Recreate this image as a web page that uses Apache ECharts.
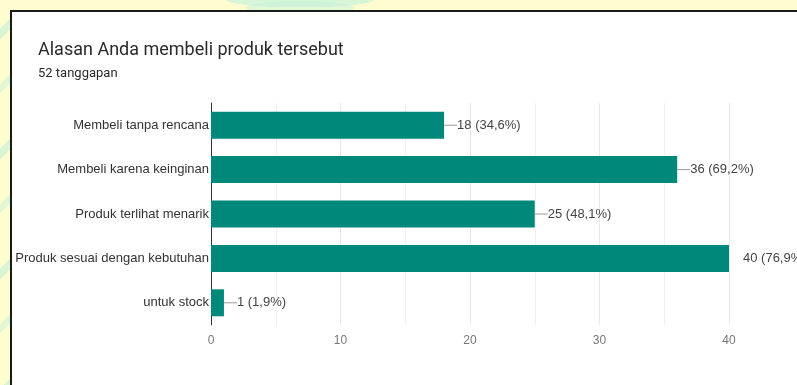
<!DOCTYPE html>
<html>
<head>
<meta charset="utf-8">
<script src="https://cdn.jsdelivr.net/npm/echarts@6/dist/echarts.min.js"></script>
<style>
  html, body { margin: 0; padding: 0; width: 797px; height: 385px; overflow: hidden; }
  body {
    background-color: #fffdcf;
    background-image:
      linear-gradient(135deg, transparent 0 20px, rgba(190,238,215,0.55) 20px 28px, transparent 28px 60px, rgba(190,238,215,0.45) 60px 66px, transparent 66px),
      radial-gradient(ellipse 120px 12px at 300px 0px, rgba(190,240,220,0.6) 0 60%, transparent 62%),
      radial-gradient(ellipse 90px 12px at 300px 8px, rgba(200,242,225,0.5) 0 60%, transparent 62%);
    background-repeat: repeat-y, no-repeat, no-repeat;
    background-size: 14px 120px, auto, auto;
  }
  #card { position: absolute; left: 10px; top: 10px; width: 830px; height: 420px; background: #fff; border: 2px solid #1a1a1a; box-sizing: border-box; }
  #chart { position: absolute; left: 0; top: 0; width: 797px; height: 385px; }
</style>
</head>
<body>
<div id="card"></div>
<div id="chart"></div>
<script>
const categories = ['Membeli tanpa rencana', 'Membeli karena keinginan', 'Produk terlihat menarik', 'Produk sesuai dengan kebutuhan', 'untuk stock'];
const counts = [18, 36, 25, 40, 1];
const percents = ['34,6%', '69,2%', '48,1%', '76,9%', '1,9%'];
const xTicks = [0, 10, 20, 30, 40];
const titleText = 'Alasan Anda membeli produk tersebut';
const subtitleText = '52 tanggapan';

const maxCount = Math.max.apply(null, counts);
const chart = echarts.init(document.getElementById('chart'), null, { renderer: 'canvas' });
chart.setOption({
  backgroundColor: 'transparent',
  animation: false,
  title: {
    text: titleText,
    subtext: subtitleText,
    left: 33, top: 36,
    itemGap: 8,
    textStyle: { fontFamily: 'Roboto', fontSize: 18, fontWeight: 'normal', color: '#2a2a2a' },
    subtextStyle: { fontFamily: 'Roboto', fontSize: 13, color: '#2a2a2a' }
  },
  grid: { left: 211, top: 103, width: 518, height: 222, containLabel: false },
  xAxis: {
    type: 'value', min: xTicks[0], max: xTicks[xTicks.length - 1], interval: 10,
    axisLine: { show: false }, axisTick: { show: false },
    axisLabel: { color: '#777', fontFamily: 'Arial, Liberation Sans', fontSize: 12, margin: 10 },
    splitLine: { show: true, lineStyle: { color: '#e8e8e8', width: 1 } },
    minorTick: { show: false, splitNumber: 2 },
    minorSplitLine: { show: true, lineStyle: { color: '#f1f1f1', width: 1 } }
  },
  yAxis: {
    type: 'category', data: categories, inverse: true,
    axisLine: { show: true, lineStyle: { color: '#333', width: 1 } },
    axisTick: { show: false },
    axisLabel: { color: '#333', fontFamily: 'Arial, Liberation Sans', fontSize: 13, margin: 2 },
    splitLine: { show: false }
  },
  series: [{
    type: 'bar',
    data: counts,
    barWidth: 27,
    itemStyle: { color: '#00897b' },
    label: {
      show: true, position: 'right', distance: 0,
      formatter: function (p) {
        const txt = p.value + ' (' + percents[p.dataIndex] + ')';
        return p.value === maxCount ? '{g| }{t|' + txt + '}' : '{l| }{t|' + txt + '}';
      },
      rich: {
        l: { width: 13, height: 1, backgroundColor: '#9a9a9a', fontSize: 1 },
        g: { width: 14, height: 1, fontSize: 1 },
        t: { fontFamily: 'Arial, Liberation Sans', fontSize: 13, color: '#444' }
      }
    }
  }]
});
</script>
</body>
</html>
